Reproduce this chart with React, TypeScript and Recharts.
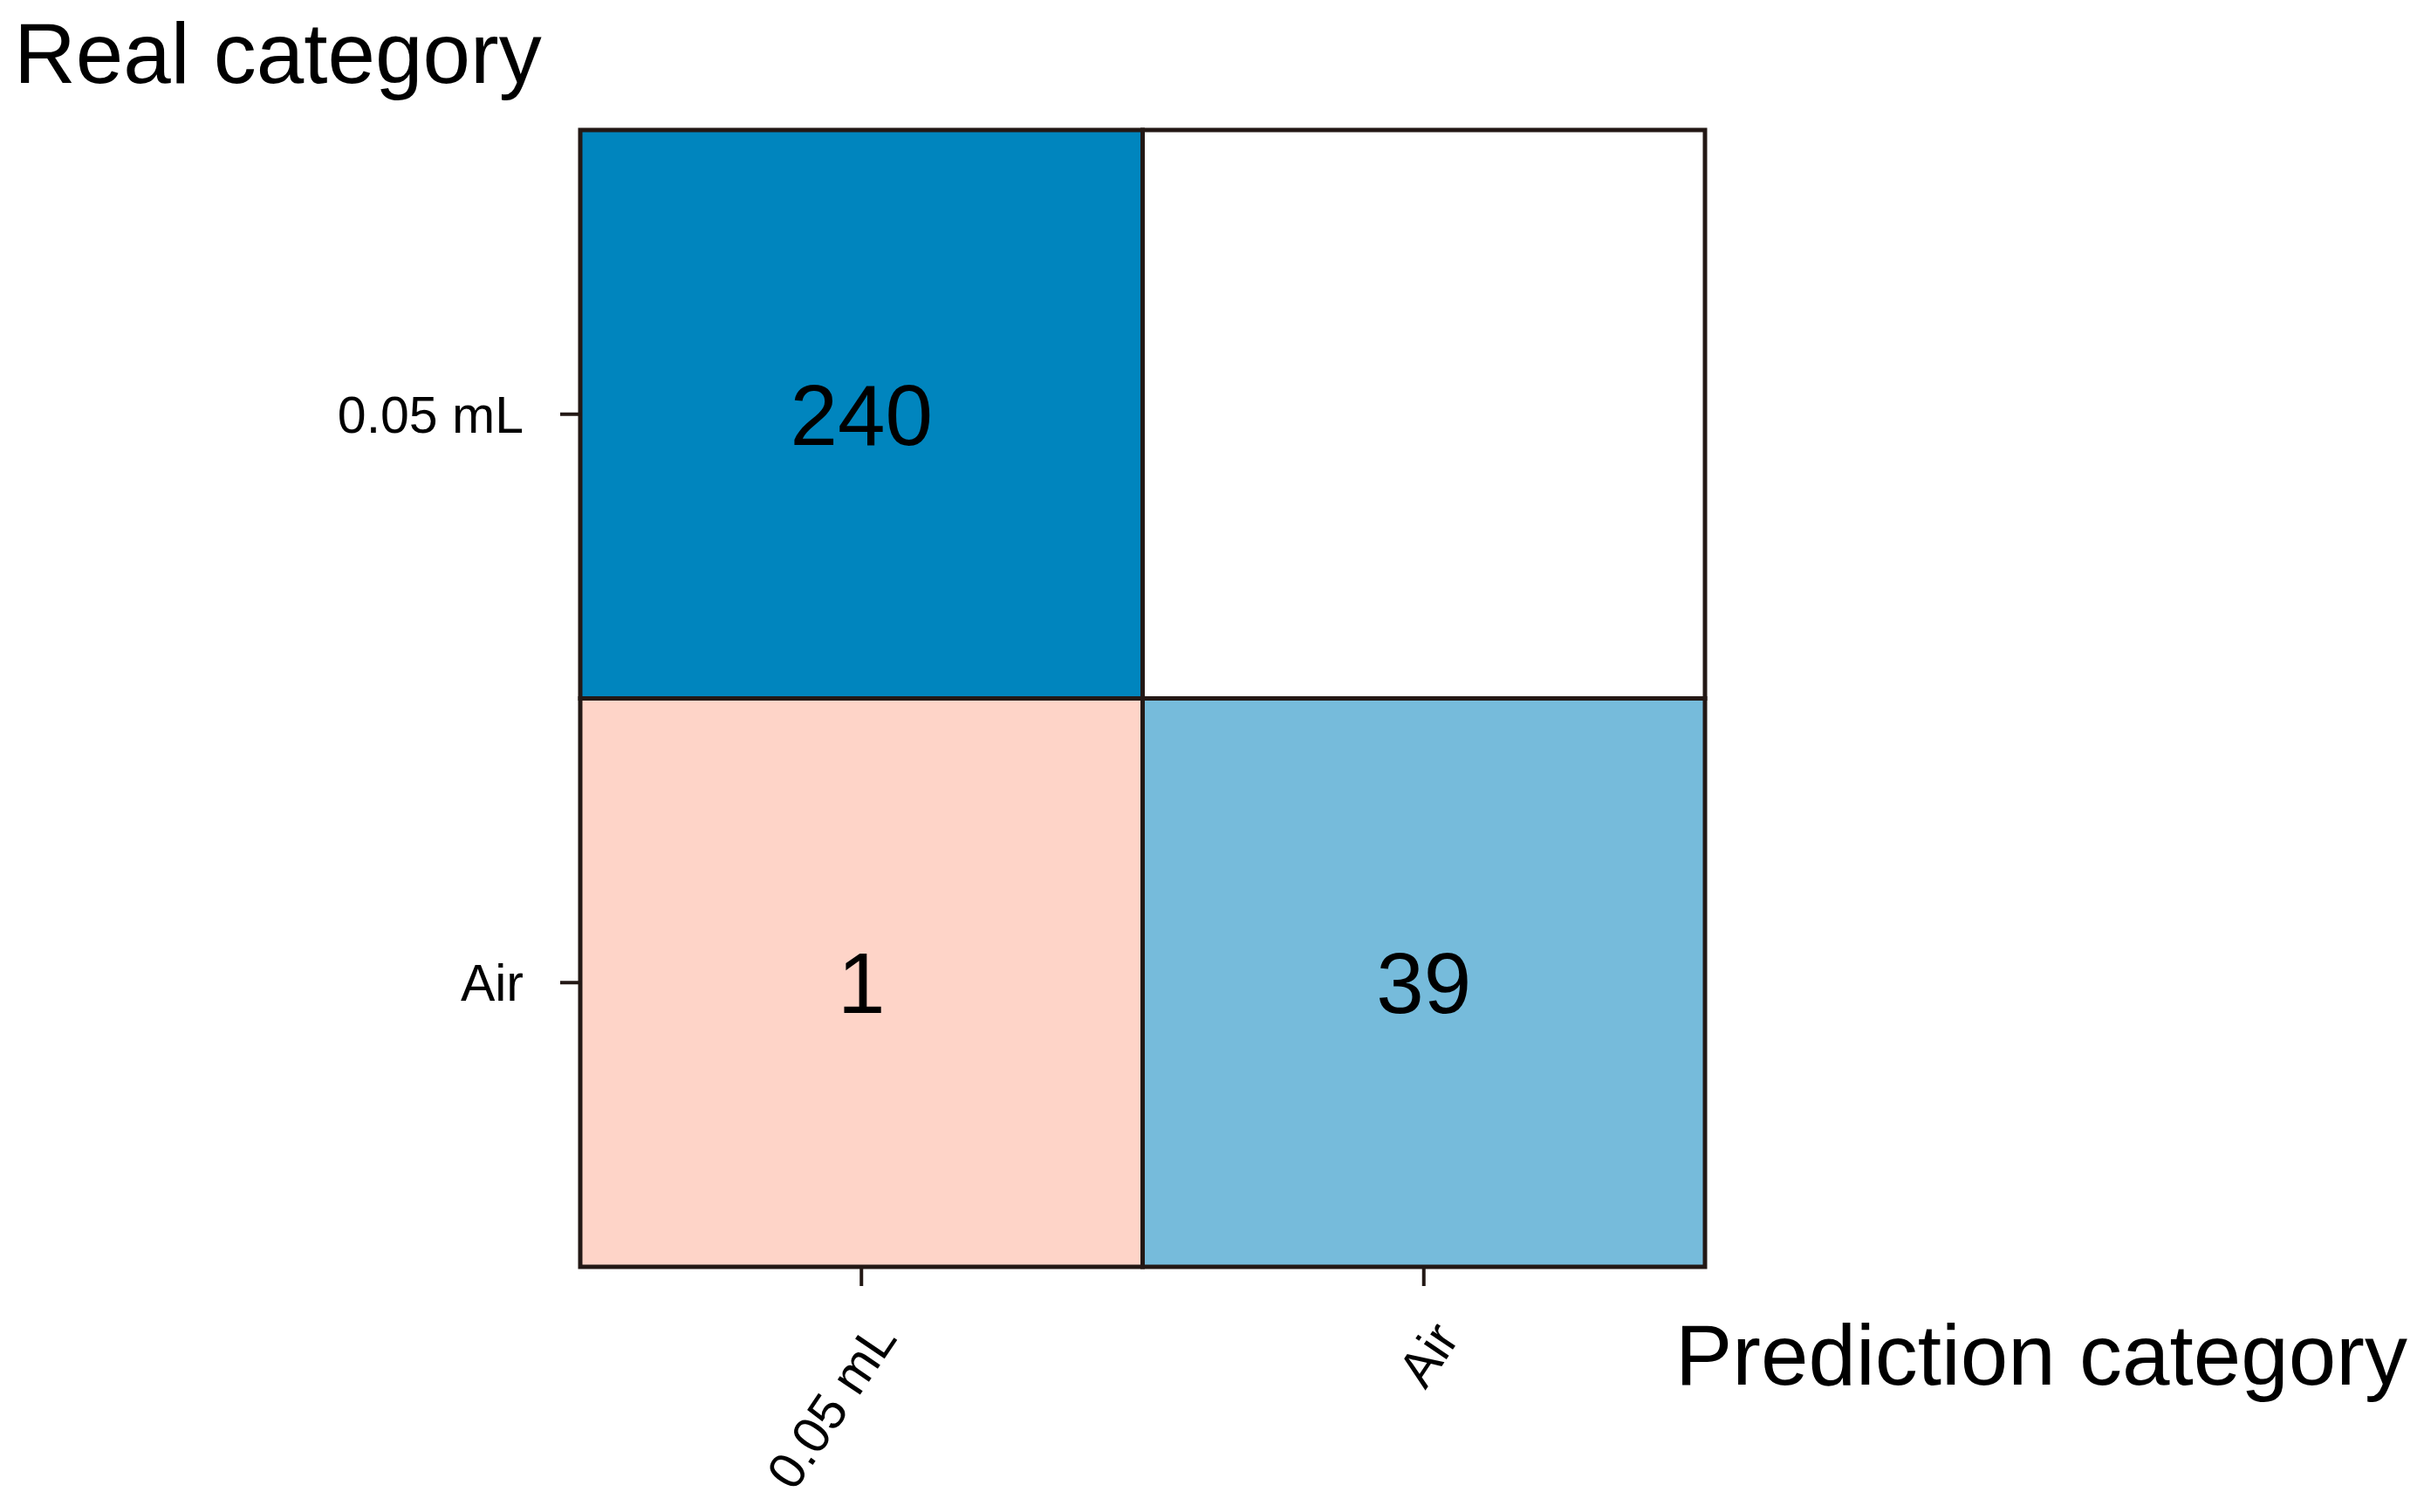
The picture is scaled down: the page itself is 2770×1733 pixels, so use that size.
import React from 'react';
import { ComposedChart, XAxis, YAxis, ReferenceArea, Label } from 'recharts';

// confusion matrix: rows = real category, columns = predicted category
const predictedCategories = ['0.05 mL', 'Air'];
const realCategories = ['0.05 mL', 'Air'];
const countsRow1 = [240, 0];
const countsRow2 = [1, 39];
const counts = [countsRow1, countsRow2];

const FONT = '"Liberation Sans", Arial, Helvetica, sans-serif';
const BORDER = '#231815';

// blue for correct predictions, salmon for errors, white for empty
const cellFill = (row: number, col: number, value: number) => {
  if (value === 0) return '#FFFFFF';
  if (row === col) return value > 100 ? '#0085BE' : '#76BBDB';
  return '#FED4C8';
};

const cells = counts.flatMap((row, r) =>
  row.map((value, c) => ({ row: r, col: c, value }))
);

const XTick = ({ x, y, payload }: any) => (
  <g transform={`translate(${x + 42},${y + 60})`}>
    <text transform="rotate(-56)" textAnchor="end" fontSize={59} fontFamily={FONT} fill="#000">
      {predictedCategories[Math.floor(payload.value)]}
    </text>
  </g>
);

const YTick = ({ x, y, payload }: any) => (
  <text x={x} y={y} dy={21} textAnchor="end" fontSize={59} fontFamily={FONT} fill="#000">
    {realCategories[Math.floor(payload.value)]}
  </text>
);

const App: React.FC = () => {
  return (
    <div style={{ position: 'absolute', left: 0, top: 0, width: 2770, height: 1733, background: '#fff' }}>
      <ComposedChart
        width={2770}
        height={1733}
        data={cells}
        margin={{ top: 149, right: 816, bottom: 81, left: 0 }}
      >
        <XAxis
          type="number"
          dataKey="col"
          domain={[0, 2]}
          ticks={[0.5, 1.5]}
          axisLine={false}
          tickLine={{ stroke: BORDER, strokeWidth: 4 }}
          tickSize={22}
          tickMargin={0}
          height={200}
          tick={<XTick />}
        >
          <Label
            content={({ viewBox }: any) => (
              <text
                x={viewBox.x + viewBox.width - 34}
                y={viewBox.y + 135}
                fontSize={98}
                fontFamily={FONT}
                fill="#000"
              >
                Prediction category
              </text>
            )}
          />
        </XAxis>
        <YAxis
          type="number"
          dataKey="row"
          domain={[0, 2]}
          reversed
          ticks={[0.5, 1.5]}
          axisLine={false}
          tickLine={{ stroke: BORDER, strokeWidth: 4 }}
          tickSize={23}
          tickMargin={42}
          width={665}
          tick={<YTick />}
        >
          <Label
            content={({ viewBox }: any) => (
              <text x={16} y={viewBox.y - 54} fontSize={98} fontFamily={FONT} fill="#000">
                Real category
              </text>
            )}
          />
        </YAxis>
        {cells.map((cell) => (
          <ReferenceArea
            key={`${cell.row}-${cell.col}`}
            x1={cell.col}
            x2={cell.col + 1}
            y1={cell.row}
            y2={cell.row + 1}
            fill={cellFill(cell.row, cell.col, cell.value)}
            fillOpacity={1}
            stroke={BORDER}
            strokeWidth={5}
            ifOverflow="visible"
            label={
              cell.value > 0
                ? { value: String(cell.value), position: 'center', fontSize: 98, fontFamily: FONT, fill: '#000' }
                : undefined
            }
          />
        ))}
      </ComposedChart>
    </div>
  );
};

export default App;
